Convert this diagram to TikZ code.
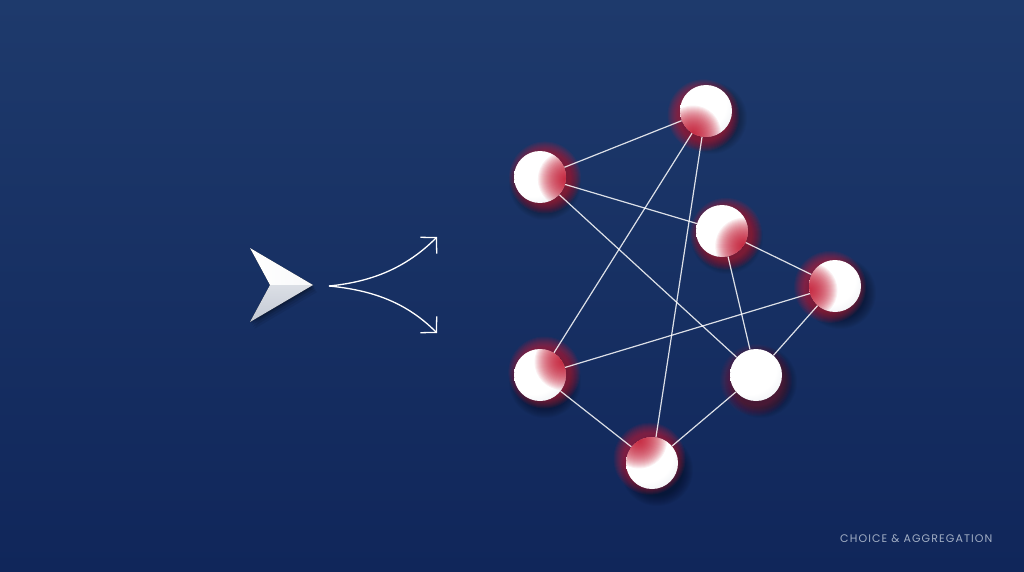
\documentclass[tikz,border=0pt]{standalone}
\usepackage{fontspec}
\newfontfamily\labelfont[LetterSpace=10]{Poppins}
\usetikzlibrary{arrows.meta,calc}
\definecolor{navytop}{HTML}{1E3A6C}
\definecolor{navybot}{HTML}{10265A}
\definecolor{spotred}{HTML}{C4112C}
\definecolor{glowred}{HTML}{D81B35}
\definecolor{ballrim}{HTML}{CFD5E0}
\definecolor{labelgray}{HTML}{A2AEC4}
\definecolor{chevgray}{HTML}{C3C9D4}

\pgfdeclareradialshading{ballshade}{\pgfpoint{-10bp}{12bp}}{color(0bp)=(white); color(26bp)=(white); color(54bp)=(ballrim); color(70bp)=(ballrim)}

\pgfdeclarelayer{bg}
\pgfdeclarelayer{glow}
\pgfdeclarelayer{mid}
\pgfsetlayers{bg,glow,mid,main}

\tikzset{
  ball/.style={circle, minimum size=52pt, inner sep=0pt, shade, shading=ballshade},
  edge/.style={draw=white, draw opacity=0.85, line width=1.2pt},
  forkline/.style={draw=white, line width=1.3pt, -{Straight Barb[length=11pt,width=23pt]}},
}

% #1 name, #2 position, #3 angle of red side, #4 glow opacity per ring, #5 spot opacity per ring
\newcommand{\drawball}[5]{%
  \begin{pgfonlayer}{glow}
  \foreach \r in {26,...,36}{
    \fill[black, opacity=0.035] ($(#2)+(5,7)$) circle (\r);
  }
  \foreach \r in {26,...,36}{
    \fill[glowred, opacity=#4] ($(#2)+(#3:5)$) circle (\r);
  }
  \end{pgfonlayer}
  \node[ball] (#1) at (#2) {};
  \begin{scope}
    \clip (#1.center) circle (26);
    \foreach \r in {1,...,28}{
      \fill[spotred, opacity=#5] ($(#1.center)+(#3:26)$) circle (\r);
    }
  \end{scope}
}

\begin{document}
\begin{tikzpicture}[x=1pt,y=-1pt]
\useasboundingbox (0,0) rectangle (1024,572);
\begin{pgfonlayer}{bg}
  \shade[top color=navytop, bottom color=navybot] (0,0) rectangle (1024,572);
\end{pgfonlayer}

% chevron
\coordinate (chevtip) at (313,285);
\coordinate (chevtop) at (250,248);
\coordinate (chevnotch) at (270,285);
\coordinate (chevbot) at (250,322);
\foreach \d/\o in {7/0.07,5/0.09,3/0.12,1.5/0.15}{
  \fill[black, opacity=\o] ($(chevtop)+(\d*0.6,\d)$) -- ($(chevtip)+(\d*0.6,\d)$) -- ($(chevbot)+(\d*0.6,\d)$) -- ($(chevnotch)+(\d*0.6,\d)$) -- cycle;
}
\fill[left color=white, right color=white!88!chevgray] (chevtop) -- (chevtip) -- (chevnotch) -- cycle;
\fill[top color=white!40!chevgray, bottom color=chevgray] (chevnotch) -- (chevtip) -- (chevbot) -- cycle;

% fork
\coordinate (fork) at (329,286);
\coordinate (up) at (437,237);
\coordinate (down) at (437,333);
\draw[forkline] (fork) .. controls ($(fork)+(41,-4)$) and ($(up)+(-32,32)$) .. (up);
\draw[forkline] (fork) .. controls ($(fork)+(41,4)$) and ($(down)+(-32,-32)$) .. (down);

% network
\drawball{A}{706,111}{120}{0.07}{0.065}
\drawball{B}{540,177}{5}{0.07}{0.065}
\drawball{C}{722,231}{35}{0.07}{0.065}
\drawball{D}{835,286}{170}{0.07}{0.065}
\drawball{E}{540,375}{330}{0.07}{0.065}
\drawball{F}{756,375}{90}{0.035}{0}
\drawball{G}{652,463}{240}{0.07}{0.065}

\begin{pgfonlayer}{mid}
  \foreach \a/\b in {A/B,A/E,A/G,B/C,B/F,C/D,C/F,D/E,D/F,E/G,F/G}{
    \draw[edge] (\a) -- (\b);
  }
\end{pgfonlayer}

\node[anchor=base west, text=labelgray, font=\labelfont\fontsize{11}{13}\selectfont, inner sep=0pt] (caption) at (840,542) {CHOICE \& AGGREGATION};
\end{tikzpicture}
\end{document}
